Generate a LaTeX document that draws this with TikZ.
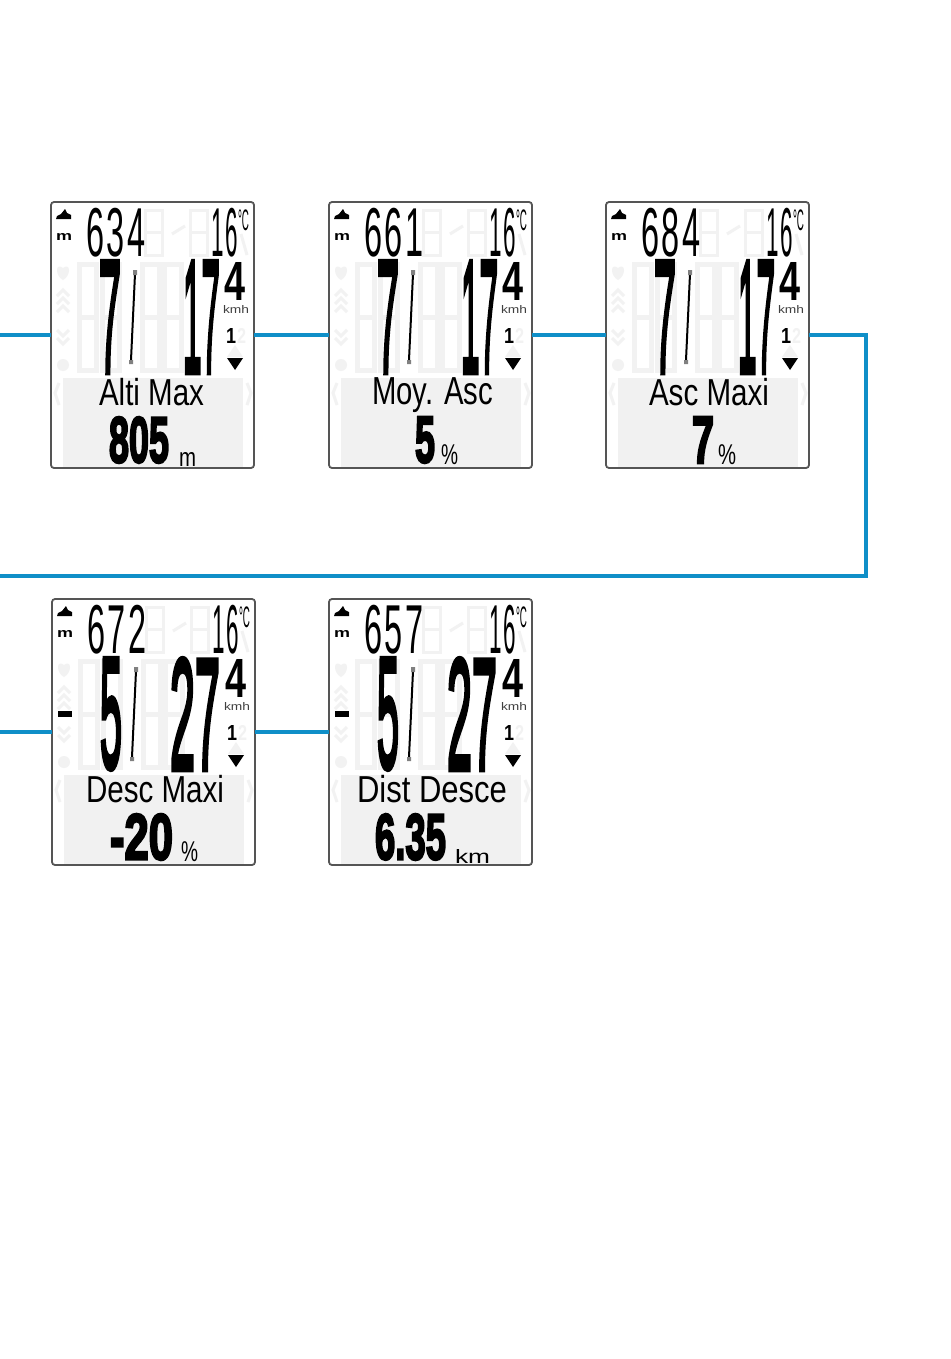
\documentclass[tikz,border=0pt]{standalone}
\usepackage{fontspec}
\usepackage{graphicx}
\setmainfont{Liberation Sans}
\newfontfamily\lcdheavy[FakeBold=4]{Liberation Sans}
\newfontfamily\lcdspaced[LetterSpace=9]{Liberation Sans}
\usetikzlibrary{calc}

\definecolor{wireblue}{HTML}{0F8FC8}
\definecolor{ghostgray}{HTML}{F2F2F2}
\definecolor{panelgray}{HTML}{F1F1F1}
\definecolor{framegray}{HTML}{555555}

\tikzset{
    screen/.style={rectangle, draw=framegray, line width=1.8pt, fill=white, rounded corners=3pt, minimum width=203pt, minimum height=266pt, inner sep=0pt, outer sep=0pt},
    wire/.style={draw=wireblue, line width=3.2pt},
    lcdtext/.style={anchor=north west, inner sep=0pt, outer sep=0pt},
    ghostseg/.style={draw=ghostgray, line width=#1},
    ghostfill/.style={fill=ghostgray, draw=none}
}

% fitted text: name, x, y, width, height, text
\newcommand{\lcdfit}[6]{\node[lcdtext] (#1) at (#2,#3) {\resizebox*{#4pt}{#5pt}{#6}};}

% ghost digit: x, y, width, height, line width
\newcommand{\ghostdigit}[5]{\draw[ghostseg=#5] (#1,#2) rectangle ++(#3,#4) (#1,#2+#4/2) -- ++(#3,0);}

% one display: name, x, y, altitude, left digit, label, label x, label width
\newcommand{\lcdscreen}[8]{
    \node[screen] (#1) at (#2+101.5,#3+133) {};
    \begin{scope}[shift={(#2,#3)}]
        % unlit segments
        \fill[panelgray] (12,176) rectangle (192,265);
        \ghostdigit{94}{8}{17}{45}{3pt}
        \ghostdigit{139}{8}{17}{45}{3pt}
        \ghostdigit{28}{62}{17}{106}{5pt}
        \ghostdigit{51}{62}{17}{106}{5pt}
        \ghostdigit{91}{62}{17}{106}{5pt}
        \ghostdigit{113}{62}{17}{106}{5pt}
        \draw[ghostseg=3pt] (121,32) -- (134,24);
        \draw[ghostseg=3pt] (190,32) -- (196,53);
        \fill[ghostfill] (12,66) .. controls (4,60) and (4,74) .. (12,78) .. controls (20,74) and (20,60) .. (12,66) -- cycle;
        \draw[ghostseg=3pt] (6,94) -- (12,88) -- (18,94) (6,102) -- (12,96) -- (18,102) (6,110) -- (12,104) -- (18,110);
        \draw[ghostseg=3pt] (6,128) -- (12,134) -- (18,128) (6,136) -- (12,142) -- (18,136);
        \fill[ghostfill] (12,163) circle (6pt);
        \fill[ghostfill] (184,143) -- (192,155) -- (176,155) -- cycle;
        \draw[ghostseg=3pt] (8,181) -- (4,191) -- (8,203) (196,181) -- (200,191) -- (196,203);
        % mountain icon and unit
        \fill[black] (5,17) -- (6,14) -- (10,12) -- (14,7) -- (16,11) -- (20,13) -- (20,17) -- cycle;
        \lcdfit{#1-m}{5}{31}{16}{7}{\bfseries m}
        % lit digits
        \lcdfit{#1-alt}{35}{6}{60}{49}{\lcdspaced #4}
        \lcdfit{#1-temp}{160}{6}{27}{49}{\lcdspaced 16}
        \lcdfit{#1-deg}{187}{8}{11}{21}{°C}
        \lcdfit{#1-left}{48}{60}{22}{110}{\lcdheavy #5}
        \draw[black, line width=2pt] (84,72) -- (80,158);
        \fill[gray] (82,68) rectangle (86,73) (78,158) rectangle (82,162);
        \lcdfit{#1-four}{173}{60}{21}{38}{\bfseries 4}
        \lcdfit{#1-kmh}{172}{103}{26}{8}{\color{black!75}kmh}
        \lcdfit{#1-gear}{175}{126}{10}{15}{\bfseries 1}
        \lcdfit{#1-gearoff}{186}{126}{9}{15}{\color{ghostgray}\bfseries 2}
        \fill[black] (176,156) -- (192,156) -- (184,168) -- cycle;
        % label line
        \lcdfit{#1-label}{#7}{176}{#8}{35}{\vphantom{y}#6}
    \end{scope}
}

% speed digits: name, x, width, text
\newcommand{\lcdright}[4]{
    \begin{scope}[shift={(#1.north west)}]
        \lcdfit{#1-right}{#2}{60}{#3}{110}{\lcdheavy #4}
    \end{scope}
}

% lower reading: name, x, width, text, unit x, unit y, unit width, unit height, unit
\newcommand{\lcdvalue}[9]{
    \begin{scope}[shift={(#1.north west)}]
        \lcdfit{#1-value}{#2}{215}{#3}{46}{\lcdheavy\bfseries #4}
        \lcdfit{#1-unit}{#5}{#6}{#7}{#8}{#9}
    \end{scope}
}

\begin{document}
\begin{tikzpicture}[x=1pt, y=-1pt]
    \useasboundingbox (0,0) rectangle (950,1359);

    % ----- top row -----
    \lcdscreen{altimax}{51}{202}{634}{7}{Alti Max}{48}{105}
    \lcdright{altimax}{132}{37}{17}
    \lcdvalue{altimax}{58}{60}{805}{128}{250}{17}{14}{m}

    \lcdscreen{moyasc}{329}{202}{661}{7}{Moy. Asc}{43}{121}
    \lcdright{moyasc}{132}{37}{17}
    \lcdvalue{moyasc}{86}{20}{5}{112}{243}{17}{20}{\%}

    \lcdscreen{ascmaxi}{606}{202}{684}{7}{Asc Maxi}{43}{120}
    \lcdright{ascmaxi}{132}{37}{17}
    \lcdvalue{ascmaxi}{86}{22}{7}{112}{243}{18}{20}{\%}

    % ----- bottom row -----
    \lcdscreen{descmaxi}{52}{599}{672}{5}{Desc Maxi}{34}{138}
    \fill[black] (descmaxi.north west) ++(6,112) rectangle ++(14,6);
    \lcdright{descmaxi}{118}{50}{27}
    \lcdvalue{descmaxi}{58}{63}{-20}{129}{243}{17}{20}{\%}

    \lcdscreen{distdesce}{329}{599}{657}{5}{Dist Desce}{28}{150}
    \fill[black] (distdesce.north west) ++(6,112) rectangle ++(14,6);
    \lcdright{distdesce}{118}{50}{27}
    \lcdvalue{distdesce}{46}{71}{6.35}{126}{250}{35}{14}{km}

    % ----- wiring -----
    \coordinate (inupper) at (0,335);
    \coordinate (inlower) at (0,732);
    \coordinate (back) at (0,576);
    \coordinate (turn) at (866,576);

    \draw[wire] (inupper) -- (altimax.west);
    \draw[wire] (altimax.east) -- (moyasc.west);
    \draw[wire] (moyasc.east) -- (ascmaxi.west);
    \draw[wire] (ascmaxi.east) -| (turn) -- (back);
    \draw[wire] (inlower) -- (descmaxi.west);
    \draw[wire] (descmaxi.east) -- (distdesce.west);
\end{tikzpicture}
\end{document}
